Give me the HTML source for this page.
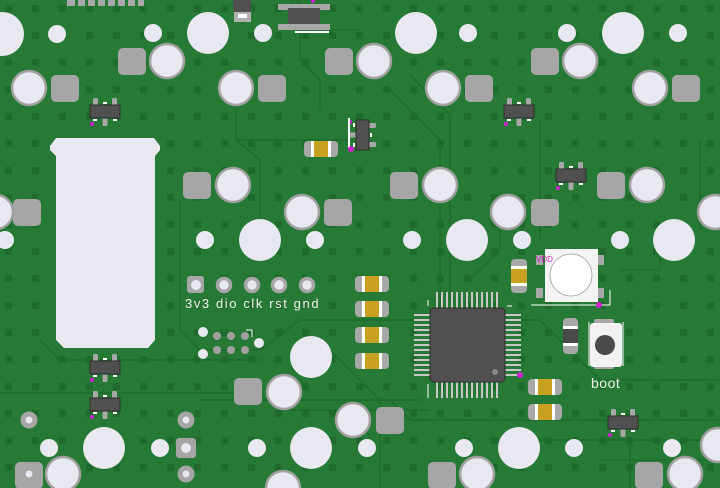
<!DOCTYPE html>
<html><head><meta charset="utf-8"><style>
html,body{margin:0;padding:0;background:#267a35;}
svg{display:block}
</style></head><body>
<svg width="720" height="488" viewBox="0 0 720 488" xmlns="http://www.w3.org/2000/svg">
<defs>
<pattern id="dots" x="5" y="5" width="27" height="27" patternUnits="userSpaceOnUse">
<rect x="0" y="0" width="7" height="7" fill="#1f6a2d"/>
</pattern>
<g id="sot">
<rect x="-12" y="-13" width="5" height="9" rx="1.5" fill="#a8a8a8"/>
<rect x="7" y="-13" width="5" height="9" rx="1.5" fill="#a8a8a8"/>
<rect x="-2.5" y="4" width="5" height="11" rx="1.5" fill="#a8a8a8"/>
<rect x="-15" y="-6" width="30" height="13" fill="#505050" stroke="#2e2e2e" stroke-width="1"/>
<rect x="-2" y="-9" width="4" height="2" fill="#fff"/>
<rect x="-12" y="8" width="4" height="2" fill="#fff"/>
<rect x="8" y="8" width="4" height="2" fill="#fff"/>
<circle cx="-13" cy="13" r="2" fill="#d020d0"/>
</g>
<g id="cap">
<rect x="-17" y="-8" width="34" height="16" rx="4" fill="#a8a8a8"/>
<rect x="-10" y="-8" width="20" height="16" fill="#fff"/>
<rect x="-7" y="-8" width="14" height="16" fill="#c8a020"/>
</g>
</defs>
<rect width="720" height="488" fill="#267a35"/>
<rect width="720" height="488" fill="url(#dots)"/>
<g fill="none" stroke="#1d6a2b" stroke-width="1.5">
<path d="M300 0 V60 L320 80 V110"/><path d="M236 110 V140 L260 160 V220"/>
<path d="M235 140 L350 140"/><path d="M390 90 L440 140 V300"/>
<path d="M410 75 L450 115 V300"/><path d="M470 320 L540 320 L600 380 L720 380"/>
<path d="M180 200 V330 L200 350 H260 L300 320 H420"/>
<path d="M0 393 H250"/><path d="M200 400 H420"/><path d="M40 340 L60 360 H260"/>
<path d="M630 440 V488"/><path d="M540 120 V240"/><path d="M290 410 H430"/>
<path d="M700 140 V230"/><path d="M520 440 H720"/><path d="M390 400 L410 420 H720"/>
</g>
<g fill="none" stroke="#1d6a2b" stroke-width="1.2">
<path d="M293 0 V20 L330 30 H360"/><path d="M297 0 V24"/><path d="M470 280 L500 250 V200"/>
<path d="M620 270 H660 V240"/><path d="M600 460 H720"/><path d="M330 350 L380 400 V488"/>
</g>
<g fill="#a6a6a6">
<rect x="118" y="48" width="28" height="27" rx="5"/>
<rect x="325" y="48" width="28" height="27" rx="5"/>
<rect x="531" y="48" width="28" height="27" rx="5"/>
<rect x="51" y="75" width="28" height="27" rx="5"/>
<rect x="258" y="75" width="28" height="27" rx="5"/>
<rect x="465" y="75" width="28" height="27" rx="5"/>
<rect x="672" y="75" width="28" height="27" rx="5"/>
<rect x="183" y="172" width="28" height="27" rx="5"/>
<rect x="390" y="172" width="28" height="27" rx="5"/>
<rect x="597" y="172" width="28" height="27" rx="5"/>
<rect x="13" y="199" width="28" height="27" rx="5"/>
<rect x="324" y="199" width="28" height="27" rx="5"/>
<rect x="531" y="199" width="28" height="27" rx="5"/>
<rect x="234" y="378" width="28" height="27" rx="5"/>
<rect x="376" y="407" width="28" height="27" rx="5"/>
<rect x="428" y="462" width="28" height="27" rx="5"/>
<rect x="635" y="462" width="28" height="27" rx="5"/>
<rect x="15" y="462" width="28" height="27" rx="5"/>
</g>
<g fill="#e8e8f0" stroke="#a0a0a0" stroke-width="2.5">
<circle cx="167" cy="61" r="17"/><circle cx="374" cy="61" r="17"/><circle cx="580" cy="61" r="17"/>
<circle cx="29" cy="88" r="17"/><circle cx="236" cy="88" r="17"/><circle cx="443" cy="88" r="17"/><circle cx="650" cy="88" r="17"/>
<circle cx="233" cy="185" r="17"/><circle cx="440" cy="185" r="17"/><circle cx="647" cy="185" r="17"/>
<circle cx="-4" cy="212" r="17"/><circle cx="302" cy="212" r="17"/><circle cx="508" cy="212" r="17"/><circle cx="715" cy="212" r="17"/>
<circle cx="284" cy="392" r="17"/><circle cx="353" cy="420" r="17"/><circle cx="718" cy="445" r="17"/>
<circle cx="63" cy="474" r="17"/><circle cx="477" cy="474" r="17"/><circle cx="685" cy="474" r="17"/><circle cx="283" cy="488" r="17"/>
</g>
<g fill="#e8e8f0">
<circle cx="2" cy="34" r="22"/><circle cx="208" cy="33" r="21"/><circle cx="416" cy="33" r="21"/><circle cx="623" cy="33" r="21"/>
<circle cx="57" cy="34" r="9"/><circle cx="153" cy="33" r="9"/><circle cx="263" cy="33" r="9"/><circle cx="468" cy="33" r="9"/><circle cx="567" cy="33" r="9"/><circle cx="678" cy="33" r="9"/>
<circle cx="260" cy="240" r="21"/><circle cx="467" cy="240" r="21"/><circle cx="674" cy="240" r="21"/>
<circle cx="5" cy="240" r="9"/><circle cx="205" cy="240" r="9"/><circle cx="315" cy="240" r="9"/><circle cx="412" cy="240" r="9"/><circle cx="522" cy="240" r="9"/><circle cx="620" cy="240" r="9"/>
<circle cx="311" cy="357" r="21"/>
<circle cx="104" cy="448" r="21"/><circle cx="311" cy="448" r="21"/><circle cx="519" cy="448" r="21"/>
<circle cx="49" cy="448" r="9"/><circle cx="160" cy="448" r="9"/><circle cx="257" cy="448" r="9"/><circle cx="464" cy="448" r="9"/><circle cx="574" cy="448" r="9"/><circle cx="672" cy="448" r="9"/><circle cx="367" cy="448" r="9"/>
</g>
<g fill="#e8e8f0" stroke="#a6a6a6" stroke-width="5">
<circle cx="29" cy="420" r="6"/><circle cx="186" cy="420" r="6"/><circle cx="186" cy="474" r="6"/><circle cx="29" cy="474" r="6"/>
</g>
<rect x="176" y="438" width="20" height="20" rx="3" fill="#a6a6a6"/><circle cx="186" cy="448" r="5" fill="#e8e8f0"/>
<path d="M56 138 H154 L160 146 V150 L155 156 V340 L148 348 H64 L56 340 V156 L50 150 V146 Z" fill="#e8e8f0"/>
<g fill="#a8a8a8"><rect x="67" y="0" width="77" height="6"/></g>
<g fill="#267a35"><rect x="75" y="0" width="3" height="6"/><rect x="85" y="0" width="3" height="6"/><rect x="95" y="0" width="3" height="6"/><rect x="105" y="0" width="3" height="6"/><rect x="115" y="0" width="3" height="6"/><rect x="125" y="0" width="3" height="6"/><rect x="135" y="0" width="3" height="6"/></g>
<rect x="233" y="0" width="18" height="12" fill="#505050"/><rect x="234" y="12" width="17" height="10" fill="#b0b0b0"/><rect x="238" y="14" width="9" height="4" fill="#fff"/>
<rect x="278" y="4" width="52" height="6" fill="#a8a8a8"/><rect x="278" y="24" width="52" height="6" fill="#a8a8a8"/>
<rect x="288" y="8" width="32" height="16" fill="#505050"/><rect x="295" y="31" width="34" height="2" fill="#fff"/><circle cx="313" cy="1" r="2" fill="#d020d0"/>
<use href="#sot" x="105" y="111"/><use href="#sot" x="519" y="111"/><use href="#sot" x="571" y="175"/>
<use href="#sot" x="105" y="367"/><use href="#sot" x="105" y="404"/><use href="#sot" x="623" y="422"/>
<g transform="translate(363,135) rotate(90)"><use href="#sot"/></g>
<rect x="348" y="118" width="2" height="30" fill="#fff"/><circle cx="351" cy="149" r="3" fill="#d020d0"/>
<use href="#cap" x="321" y="149"/>
<use href="#cap" x="372" y="284"/><use href="#cap" x="372" y="309"/><use href="#cap" x="372" y="335"/><use href="#cap" x="372" y="361"/>
<use href="#cap" x="545" y="387"/><use href="#cap" x="545" y="412"/>
<g transform="translate(519,276) rotate(90)"><use href="#cap"/></g>
<rect x="563" y="318" width="15" height="36" rx="4" fill="#a8a8a8"/><rect x="563" y="326" width="15" height="20" fill="#fff"/><rect x="563" y="329" width="15" height="14" fill="#4a4a4a"/>
<rect x="187" y="276" width="17" height="17" rx="3" fill="#a6a6a6"/><circle cx="196" cy="285" r="5" fill="#e8e8f0"/>
<g fill="#e8e8f0" stroke="#a6a6a6" stroke-width="3.5"><circle cx="224" cy="285" r="6.5"/><circle cx="252" cy="285" r="6.5"/><circle cx="279" cy="285" r="6.5"/><circle cx="307" cy="285" r="6.5"/></g>
<text x="185" y="308" font-family="Liberation Sans, sans-serif" font-size="13" fill="#f0f0f0" letter-spacing="1.6">3v3 dio clk rst gnd</text>
<g fill="#e8e8f0"><circle cx="203" cy="332" r="5"/><circle cx="203" cy="354" r="5"/><circle cx="259" cy="343" r="5"/></g>
<g fill="#a0a0a0"><circle cx="217" cy="336" r="4"/><circle cx="231" cy="336" r="4"/><circle cx="245" cy="336" r="4"/><circle cx="217" cy="350" r="4"/><circle cx="231" cy="350" r="4"/><circle cx="245" cy="350" r="4"/></g>
<path d="M246 330 H252 V337" stroke="#fff" fill="none" stroke-width="1"/>
<g fill="#c8c8c8">
<rect x="436" y="292" width="2" height="16"/><rect x="441" y="292" width="2" height="16"/><rect x="446" y="292" width="2" height="16"/><rect x="451" y="292" width="2" height="16"/><rect x="456" y="292" width="2" height="16"/><rect x="461" y="292" width="2" height="16"/><rect x="466" y="292" width="2" height="16"/><rect x="471" y="292" width="2" height="16"/><rect x="476" y="292" width="2" height="16"/><rect x="481" y="292" width="2" height="16"/><rect x="486" y="292" width="2" height="16"/><rect x="491" y="292" width="2" height="16"/><rect x="496" y="292" width="2" height="16"/>
<rect x="436" y="382" width="2" height="16"/><rect x="441" y="382" width="2" height="16"/><rect x="446" y="382" width="2" height="16"/><rect x="451" y="382" width="2" height="16"/><rect x="456" y="382" width="2" height="16"/><rect x="461" y="382" width="2" height="16"/><rect x="466" y="382" width="2" height="16"/><rect x="471" y="382" width="2" height="16"/><rect x="476" y="382" width="2" height="16"/><rect x="481" y="382" width="2" height="16"/><rect x="486" y="382" width="2" height="16"/><rect x="491" y="382" width="2" height="16"/><rect x="496" y="382" width="2" height="16"/>
<rect x="414" y="314" width="16" height="2"/><rect x="414" y="319" width="16" height="2"/><rect x="414" y="324" width="16" height="2"/><rect x="414" y="329" width="16" height="2"/><rect x="414" y="334" width="16" height="2"/><rect x="414" y="339" width="16" height="2"/><rect x="414" y="344" width="16" height="2"/><rect x="414" y="349" width="16" height="2"/><rect x="414" y="354" width="16" height="2"/><rect x="414" y="359" width="16" height="2"/><rect x="414" y="364" width="16" height="2"/><rect x="414" y="369" width="16" height="2"/><rect x="414" y="374" width="16" height="2"/>
<rect x="505" y="314" width="16" height="2"/><rect x="505" y="319" width="16" height="2"/><rect x="505" y="324" width="16" height="2"/><rect x="505" y="329" width="16" height="2"/><rect x="505" y="334" width="16" height="2"/><rect x="505" y="339" width="16" height="2"/><rect x="505" y="344" width="16" height="2"/><rect x="505" y="349" width="16" height="2"/><rect x="505" y="354" width="16" height="2"/><rect x="505" y="359" width="16" height="2"/><rect x="505" y="364" width="16" height="2"/><rect x="505" y="369" width="16" height="2"/><rect x="505" y="374" width="16" height="2"/>
</g>
<rect x="430" y="308" width="75" height="74" rx="4" fill="#505050" stroke="#2e2e2e"/>
<circle cx="495" cy="372" r="3" fill="#888"/><circle cx="520" cy="375" r="3" fill="#d020d0"/>
<path d="M428 306 V300 M428 384 V398 M507 306 H512" stroke="#fff" stroke-width="1"/>
<rect x="536" y="255" width="7" height="10" fill="#a8a8a8"/><rect x="597" y="255" width="7" height="10" fill="#a8a8a8"/>
<rect x="536" y="288" width="7" height="10" fill="#a8a8a8"/><rect x="597" y="288" width="7" height="10" fill="#a8a8a8"/>
<rect x="545" y="249" width="53" height="53" fill="#f4f4f4"/><circle cx="571" cy="275" r="21" fill="#fff" stroke="#999" stroke-width="0.8"/>
<path d="M531 305 H610 V290" stroke="#fff" fill="none"/>
<text x="536" y="262" font-family="Liberation Sans, sans-serif" font-size="8" fill="#d020d0">VDD</text>
<circle cx="599" cy="305" r="3" fill="#d020d0"/>
<rect x="594" y="319" width="20" height="7" rx="2" fill="#a8a8a8"/><rect x="594" y="362" width="20" height="7" rx="2" fill="#a8a8a8"/>
<rect x="590" y="323" width="32" height="44" rx="3" fill="#f2f2f2"/><circle cx="605" cy="345" r="10" fill="#4a4a4a"/>
<path d="M589 322 V366 M623 322 V366" stroke="#fff"/>
<text x="591" y="388" font-family="Liberation Sans, sans-serif" font-size="14" fill="#f0f0f0" letter-spacing="0.5">boot</text>
</svg>
</body></html>
